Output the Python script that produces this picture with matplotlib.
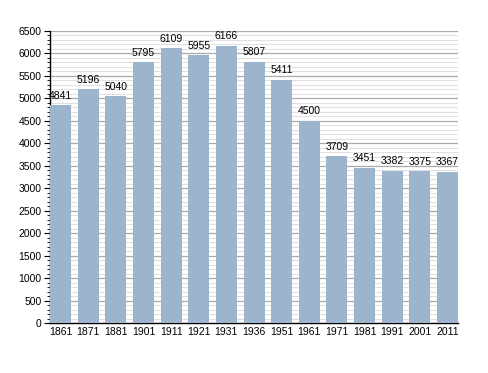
import matplotlib
matplotlib.use("Agg")
import matplotlib.pyplot as plt
from matplotlib.ticker import MultipleLocator

years = ["1861", "1871", "1881", "1901", "1911", "1921", "1931", "1936",
         "1951", "1961", "1971", "1981", "1991", "2001", "2011"]
population = [4841, 5196, 5040, 5795, 6109, 5955, 6166, 5807,
              5411, 4500, 3709, 3451, 3382, 3375, 3367]

plt.rcParams['font.family'] = ['Liberation Sans', 'DejaVu Sans']

fig = plt.figure(figsize=(4.88, 3.73), dpi=100)
ax = fig.add_axes([0.1025, 0.134, 0.836, 0.784])

x = list(range(len(years)))
w = 0.76
ax.bar(x, population, width=w, color="#9db4cf", zorder=3)
for xi, v in zip(x, population):
    ax.text(xi, v + 100, str(v), ha="center", va="bottom", fontsize=7.5, zorder=4)

ax.set_xlim(-w / 2, len(years) - 1 + w / 2)
ax.set_ylim(0, 6500)
ax.set_xticks(x)
ax.set_xticklabels(years)
ax.yaxis.set_major_locator(MultipleLocator(500))
ax.yaxis.set_minor_locator(MultipleLocator(100))
ax.grid(axis="y", which="major", color="#aaaaaa", linewidth=0.9, zorder=1)
ax.grid(axis="y", which="minor", color="#e0e0e0", linewidth=0.8, zorder=0)

for s in ["top", "right"]:
    ax.spines[s].set_visible(False)
ax.spines["left"].set_linewidth(1.0)
ax.spines["bottom"].set_linewidth(1.0)
ax.tick_params(axis="x", length=0, labelsize=7.5, pad=3)
ax.tick_params(axis="y", which="major", length=4, labelsize=7.5, pad=2)
ax.tick_params(axis="y", which="minor", length=2)

fig.savefig("out.png", dpi=100)
